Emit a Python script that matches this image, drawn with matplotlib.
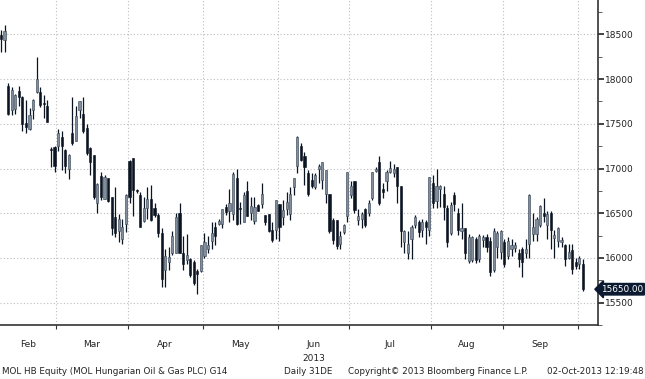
import numpy as np
import pandas as pd
import matplotlib
matplotlib.use("Agg")
import matplotlib.pyplot as plt
from matplotlib import transforms, font_manager

# trading days (Budapest), Feb 7 - Oct 2 2013
holidays = ["2013-03-15", "2013-04-01", "2013-05-01", "2013-05-20", "2013-08-19", "2013-08-20"]
days = pd.bdate_range("2013-02-07", "2013-10-02")
days = days[~days.isin(pd.to_datetime(holidays))]

opens = [18494, 18440, 17920, 17650, 17670, 17864, 17800, 17510, 17440, 17660,
         17854, 17854, 17730, 17700, 17220, 17240, 17250, 17350, 17205, 16990,
         17400, 17311, 17650, 17610, 17450, 17225, 17150, 16612, 16920, 16660,
         16890, 16680, 16455, 16300, 16210, 16380, 17080, 17120, 16760, 16700,
         16410, 16560, 16660, 16560, 16480, 16280, 15870, 15960, 16055, 16055,
         16500, 16060, 15980, 15990, 15960, 15850, 15850, 16020, 16100, 16190,
         16350, 16380, 16385, 16575, 16520, 16490, 16890, 16560, 16400, 16750,
         16500, 16410, 16590, 16600, 16475, 16490, 16315, 16315, 16600, 16460,
         16545, 16490, 16790, 17030, 17257, 17140, 16950, 16870, 16790, 16990,
         16870, 16715, 16710, 16420, 16420, 16160, 16295, 16470, 16700, 16855,
         16420, 16440, 16545, 16505, 16665, 16970, 17070, 16770, 16855, 16960,
         16945, 17015, 16805, 16175, 16050, 16210, 16365, 16400, 16315, 16400,
         16315, 16840, 16640, 16770, 16715, 16560, 16280, 16700, 16505, 16300,
         16335, 15965, 15980, 16210, 15990, 16200, 16230, 16190, 15860, 16125,
         16070, 16175, 16020, 16105, 16110, 16050, 16105, 16050, 16160, 16265,
         16265, 16365, 16505, 16365, 16505, 16220, 16190, 16175, 16140, 16000,
         16090, 15950, 15930, 15930]
highs = [18552, 18605, 17960, 17910, 17830, 17920, 17810, 17766, 17680, 17780,
         18250, 17910, 17820, 17770, 17240, 17250, 17440, 17416, 17220, 17160,
         17795, 17700, 17760, 17795, 17500, 17240, 17150, 16840, 16960, 16927,
         16890, 16680, 16790, 16490, 16440, 16710, 17100, 17120, 16770, 16735,
         16680, 16790, 16820, 16610, 16507, 16335, 16100, 16120, 16300, 16507,
         16610, 16245, 16265, 16000, 15980, 15880, 16150, 16280, 16250, 16400,
         16400, 16440, 16545, 16600, 16770, 16965, 17000, 16630, 16735, 16855,
         16680, 16680, 16600, 16840, 16480, 16490, 16400, 16650, 16600, 16650,
         16735, 16790, 16890, 17365, 17280, 17190, 16980, 16945, 16945, 17050,
         17070, 16980, 16715, 16450, 16420, 16300, 16385, 16960, 16855, 16860,
         16545, 16510, 16560, 16650, 16960, 17015, 17140, 16840, 16980, 17085,
         17050, 17015, 16810, 16315, 16300, 16365, 16475, 16420, 16440, 16420,
         16910, 16930, 16990, 16820, 16805, 16595, 16630, 16735, 16560, 16610,
         16335, 16265, 16250, 16230, 16265, 16260, 16265, 16230, 16335, 16300,
         16315, 16210, 16230, 16210, 16175, 16105, 16125, 16210, 16715, 16505,
         16455, 16595, 16665, 16525, 16525, 16315, 16350, 16230, 16160, 16160,
         16160, 16000, 16020, 15990]
lows = [18308, 18308, 17600, 17600, 17610, 17700, 17416, 17400, 17430, 17550,
        17850, 17690, 17560, 17520, 17015, 16960, 17200, 16980, 16950, 16880,
        17260, 17311, 17560, 17400, 17150, 16927, 16654, 16507, 16650, 16660,
        16630, 16262, 16230, 16180, 16160, 16290, 16610, 16470, 16730, 16350,
        16400, 16440, 16410, 16455, 16230, 15680, 15670, 15870, 16035, 16050,
        16050, 15860, 15930, 15790, 15700, 15600, 15840, 16000, 16060, 16100,
        16140, 16365, 16335, 16475, 16400, 16420, 16365, 16385, 16400, 16475,
        16420, 16385, 16520, 16560, 16370, 16295, 16175, 16210, 16190, 16365,
        16475, 16420, 16700, 16945, 17080, 16820, 16690, 16780, 16770, 16840,
        16770, 16610, 16280, 16160, 16105, 16105, 16265, 16400, 16665, 16505,
        16365, 16335, 16350, 16470, 16650, 16960, 16595, 16665, 16750, 16945,
        16910, 16610, 16125, 16050, 15985, 15985, 16330, 16230, 16230, 16160,
        16245, 16560, 16560, 16575, 16420, 16125, 16260, 16525, 16260, 16210,
        15985, 15940, 15950, 15940, 15950, 16120, 16070, 15800, 15840, 16000,
        15985, 15900, 15985, 16020, 16070, 15900, 15790, 16000, 16000, 16190,
        16190, 16350, 16400, 16210, 16105, 16000, 16120, 16120, 15915, 15985,
        15815, 15880, 15880, 15630]
closes = [18448, 18540, 17610, 17880, 17820, 17800, 17500, 17460, 17600, 17770,
          18004, 17710, 17720, 17520, 17210, 17030, 17400, 17250, 17030, 17150,
          17290, 17590, 17750, 17420, 17170, 17070, 16680, 16830, 16680, 16900,
          16640, 16340, 16280, 16440, 16350, 16700, 16680, 16760, 16745, 16350,
          16560, 16660, 16420, 16480, 16280, 15770, 16020, 16010, 16245, 16460,
          16060, 15930, 16030, 15810, 15720, 15820, 16140, 16180, 16150, 16280,
          16245, 16410, 16545, 16510, 16610, 16940, 16380, 16550, 16700, 16470,
          16580, 16575, 16520, 16715, 16400, 16300, 16200, 16650, 16350, 16540,
          16630, 16715, 16890, 17350, 17100, 17015, 16720, 16800, 16925, 17030,
          17070, 16980, 16300, 16200, 16130, 16245, 16365, 16960, 16805, 16540,
          16470, 16490, 16365, 16610, 16960, 17000, 16610, 16735, 16960, 17005,
          17000, 16805, 16300, 16300, 16160, 16350, 16455, 16295, 16400, 16350,
          16900, 16610, 16810, 16805, 16575, 16175, 16595, 16600, 16315, 16335,
          16050, 16230, 16230, 15980, 16240, 16230, 16125, 15840, 16300, 16280,
          16300, 15930, 16190, 16140, 16140, 15985, 15950, 16105, 16700, 16350,
          16440, 16585, 16470, 16490, 16315, 16255, 16335, 16200, 15985, 16070,
          15880, 15915, 16000, 15650]

month_names = ["Feb", "Mar", "Apr", "May", "Jun", "Jul", "Aug", "Sep"]
y_ticks = [15500, 16000, 16500, 17000, 17500, 18000, 18500]
last_price = "15650.00"

# narrow font like the terminal's, if available
names = {f.name for f in font_manager.fontManager.ttflist}
fam = ["Liberation Sans Narrow", "DejaVu Sans"] if "Liberation Sans Narrow" in names else ["DejaVu Sans"]
plt.rcParams["font.family"] = fam
fs = 7.2 if fam[0] == "Liberation Sans Narrow" else 6.0

o = np.array(opens, float)
h = np.array(highs, float)
l = np.array(lows, float)
c = np.array(closes, float)
x = np.arange(len(days))

dark = "#0b1522"
grey = "#7f8d9d"
txt = "#222222"

fig = plt.figure(figsize=(6.45, 3.79), dpi=100)
ax = fig.add_axes([0.0, 0.1425, 0.927, 0.8575])

up = c >= o
ax.vlines(x, np.minimum(l, np.minimum(o, c)), np.maximum(h, np.maximum(o, c)),
          color=dark, lw=0.9, zorder=2)
body_bot = np.minimum(o, c)
body_h = np.maximum(np.abs(c - o), 12)
ax.bar(x[up], body_h[up], bottom=body_bot[up], width=0.6, color=grey,
       edgecolor="#3a4656", lw=0.4, zorder=3)
ax.bar(x[~up], body_h[~up], bottom=body_bot[~up], width=0.6, color=dark,
       edgecolor=dark, lw=0.4, zorder=3)

ax.set_xlim(-0.28, 167.2)
ax.set_ylim(15476, 18885)

# month boundaries
month_idx = pd.Series(x, index=days).groupby(days.to_period("M")).first()
bounds = list(month_idx.values[1:] - 0.5)
starts = [-0.5] + bounds
centers = [(starts[k] + starts[k + 1]) / 2 for k in range(len(month_names))]

ax.set_xticks(bounds)
ax.set_xticklabels([])
ax.set_xticks(centers, minor=True)
ax.set_xticklabels(month_names, minor=True, fontsize=fs + 0.5, color=txt)
ax.tick_params(axis="x", which="major", direction="out", length=3, color="#333333")
ax.tick_params(axis="x", which="minor", length=0, pad=11)
ax.text(centers[4], -0.088, "2013", transform=transforms.blended_transform_factory(ax.transData, ax.transAxes),
        ha="center", va="top", fontsize=fs + 0.5, color=txt)

ax.yaxis.tick_right()
ax.set_yticks(y_ticks)
ax.set_yticklabels([str(v) for v in y_ticks], fontsize=fs + 0.5, color=txt)
ax.set_yticks(np.arange(15250, 18900, 500), minor=True)
ax.tick_params(axis="y", which="major", direction="out", length=4, width=1.2, color=txt, pad=1)
ax.tick_params(axis="y", which="minor", direction="out", length=3, color="#444444")

ax.grid(True, which="major", color="#bdbdbd", lw=0.8, ls=(0, (1, 2)))
for s in ["left", "top"]:
    ax.spines[s].set_visible(False)
for s in ["right", "bottom"]:
    ax.spines[s].set_color("#333333")
    ax.spines[s].set_linewidth(1.2)

tr = transforms.blended_transform_factory(ax.transAxes, ax.transData)
ax.text(1.005, c[-1], last_price, transform=tr, ha="left", va="center", fontsize=fs + 0.4,
        color="white", bbox=dict(boxstyle="larrow,pad=0.14", fc="#0b1a30", ec="#0b1a30"),
        clip_on=False)

fy = 0.021
fig.text(0.003, fy, "MOL HB Equity (MOL Hungarian Oil & Gas PLC) G14", fontsize=fs + 0.3, color=txt, va="center")
fig.text(0.44, fy, "Daily 31DE", fontsize=fs + 0.3, color=txt, va="center")
fig.text(0.54, fy, "Copyright\u00a9 2013 Bloomberg Finance L.P.", fontsize=fs + 0.3, color=txt, va="center")
fig.text(0.998, fy, "02-Oct-2013 12:19:48", fontsize=fs + 0.3, color=txt, va="center", ha="right")

fig.savefig("out.png", dpi=100, facecolor="white")
